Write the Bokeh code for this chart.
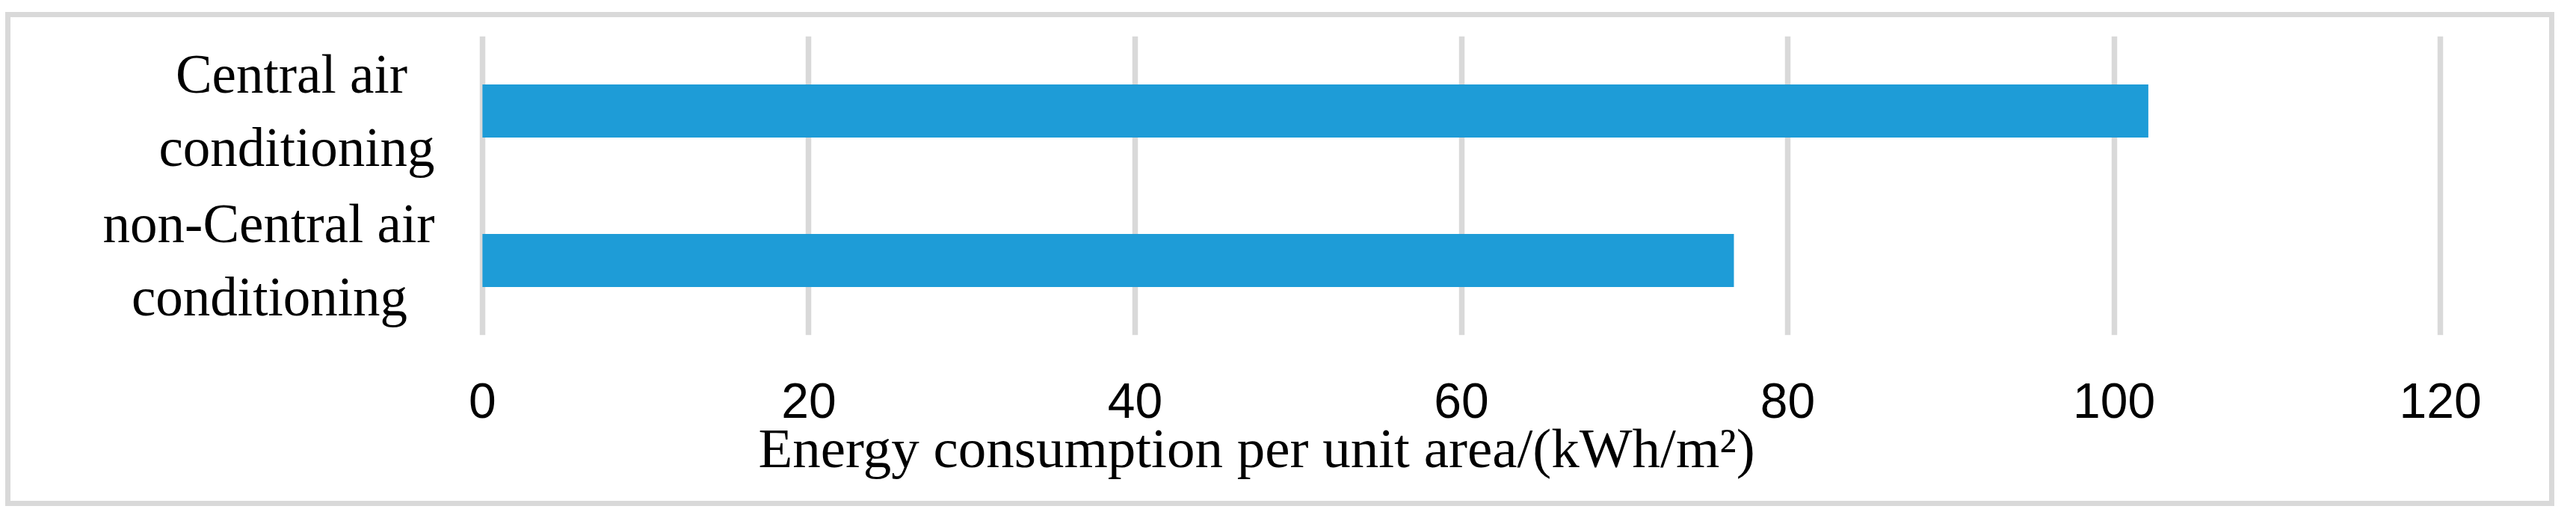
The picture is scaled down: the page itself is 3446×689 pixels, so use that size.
from bokeh.plotting import figure
from bokeh.models import FactorRange, Range1d, FixedTicker, Title
from bokeh.embed import file_html
from bokeh.resources import INLINE

# data
categories = ["Central air\nconditioning", "non-Central air\nconditioning"]
values = [102.1, 76.7]
xticks = [0, 20, 40, 60, 80, 100, 120]
x_title = "Energy consumption per unit area/(kWh/m²)"

# lines of each category label are centred in the reference: pad the shorter
# line with no-break spaces so that right-justified lines appear centred
NBSP = "\u00a0"
def centre_lines(label, space_px=18.25):
    lines = label.split("\n")
    widths = {"Central air": 310, "conditioning": 374, "non-Central air": 446}
    wmax = max(widths.get(l, 0) for l in lines)
    out = []
    for l in lines:
        n = int(round((wmax - widths.get(l, wmax)) / 2 / space_px))
        out.append(l + NBSP * n)
    return "\n".join(out)

shown = [centre_lines(c) for c in categories]

p = figure(
    width=3396, height=647,
    y_range=FactorRange(factors=shown[::-1], range_padding=0),
    x_range=Range1d(-0.5, 120.5),
    output_backend="svg", toolbar_location=None,
    min_border_left=620, min_border_right=135,
    min_border_top=25, min_border_bottom=222,
)
# top margin collapses with the body's 8px margin, so 23 puts the plot at y=23
p.margin = (23, 0, 0, 14)
p.styles = {"outline": "7px solid #d9d9d9"}
p.outline_line_color = None
p.background_fill_color = "white"
p.border_fill_color = "white"

p.hbar(y=shown, right=values, left=0, height=0.355,
       fill_color="#1E9CD7", line_color=None)

# grid
p.ygrid.grid_line_color = None
p.xgrid.grid_line_color = "#d9d9d9"
p.xgrid.grid_line_width = 7.5
p.xaxis.ticker = FixedTicker(ticks=xticks)

# x axis
xa = p.xaxis[0]
xa.axis_line_color = None
xa.major_tick_line_color = None
xa.minor_tick_line_color = None
xa.major_label_text_font = "Liberation Sans"
xa.major_label_text_font_size = "66px"
xa.major_label_text_color = "black"
xa.major_label_standoff = 58

# y axis
ya = p.yaxis[0]
ya.axis_line_color = None
ya.major_tick_line_color = None
ya.minor_tick_line_color = None
ya.major_label_text_font = "Liberation Serif"
ya.major_label_text_font_size = "73px"
ya.major_label_text_color = "black"
ya.major_label_standoff = 47

t = Title(text=x_title, align="left", offset=380, standoff=-12,
          text_font="Liberation Serif", text_font_size="75px",
          text_font_style="normal", text_color="black")
p.add_layout(t, "below")

open("out.html", "w").write(file_html(p, INLINE))
